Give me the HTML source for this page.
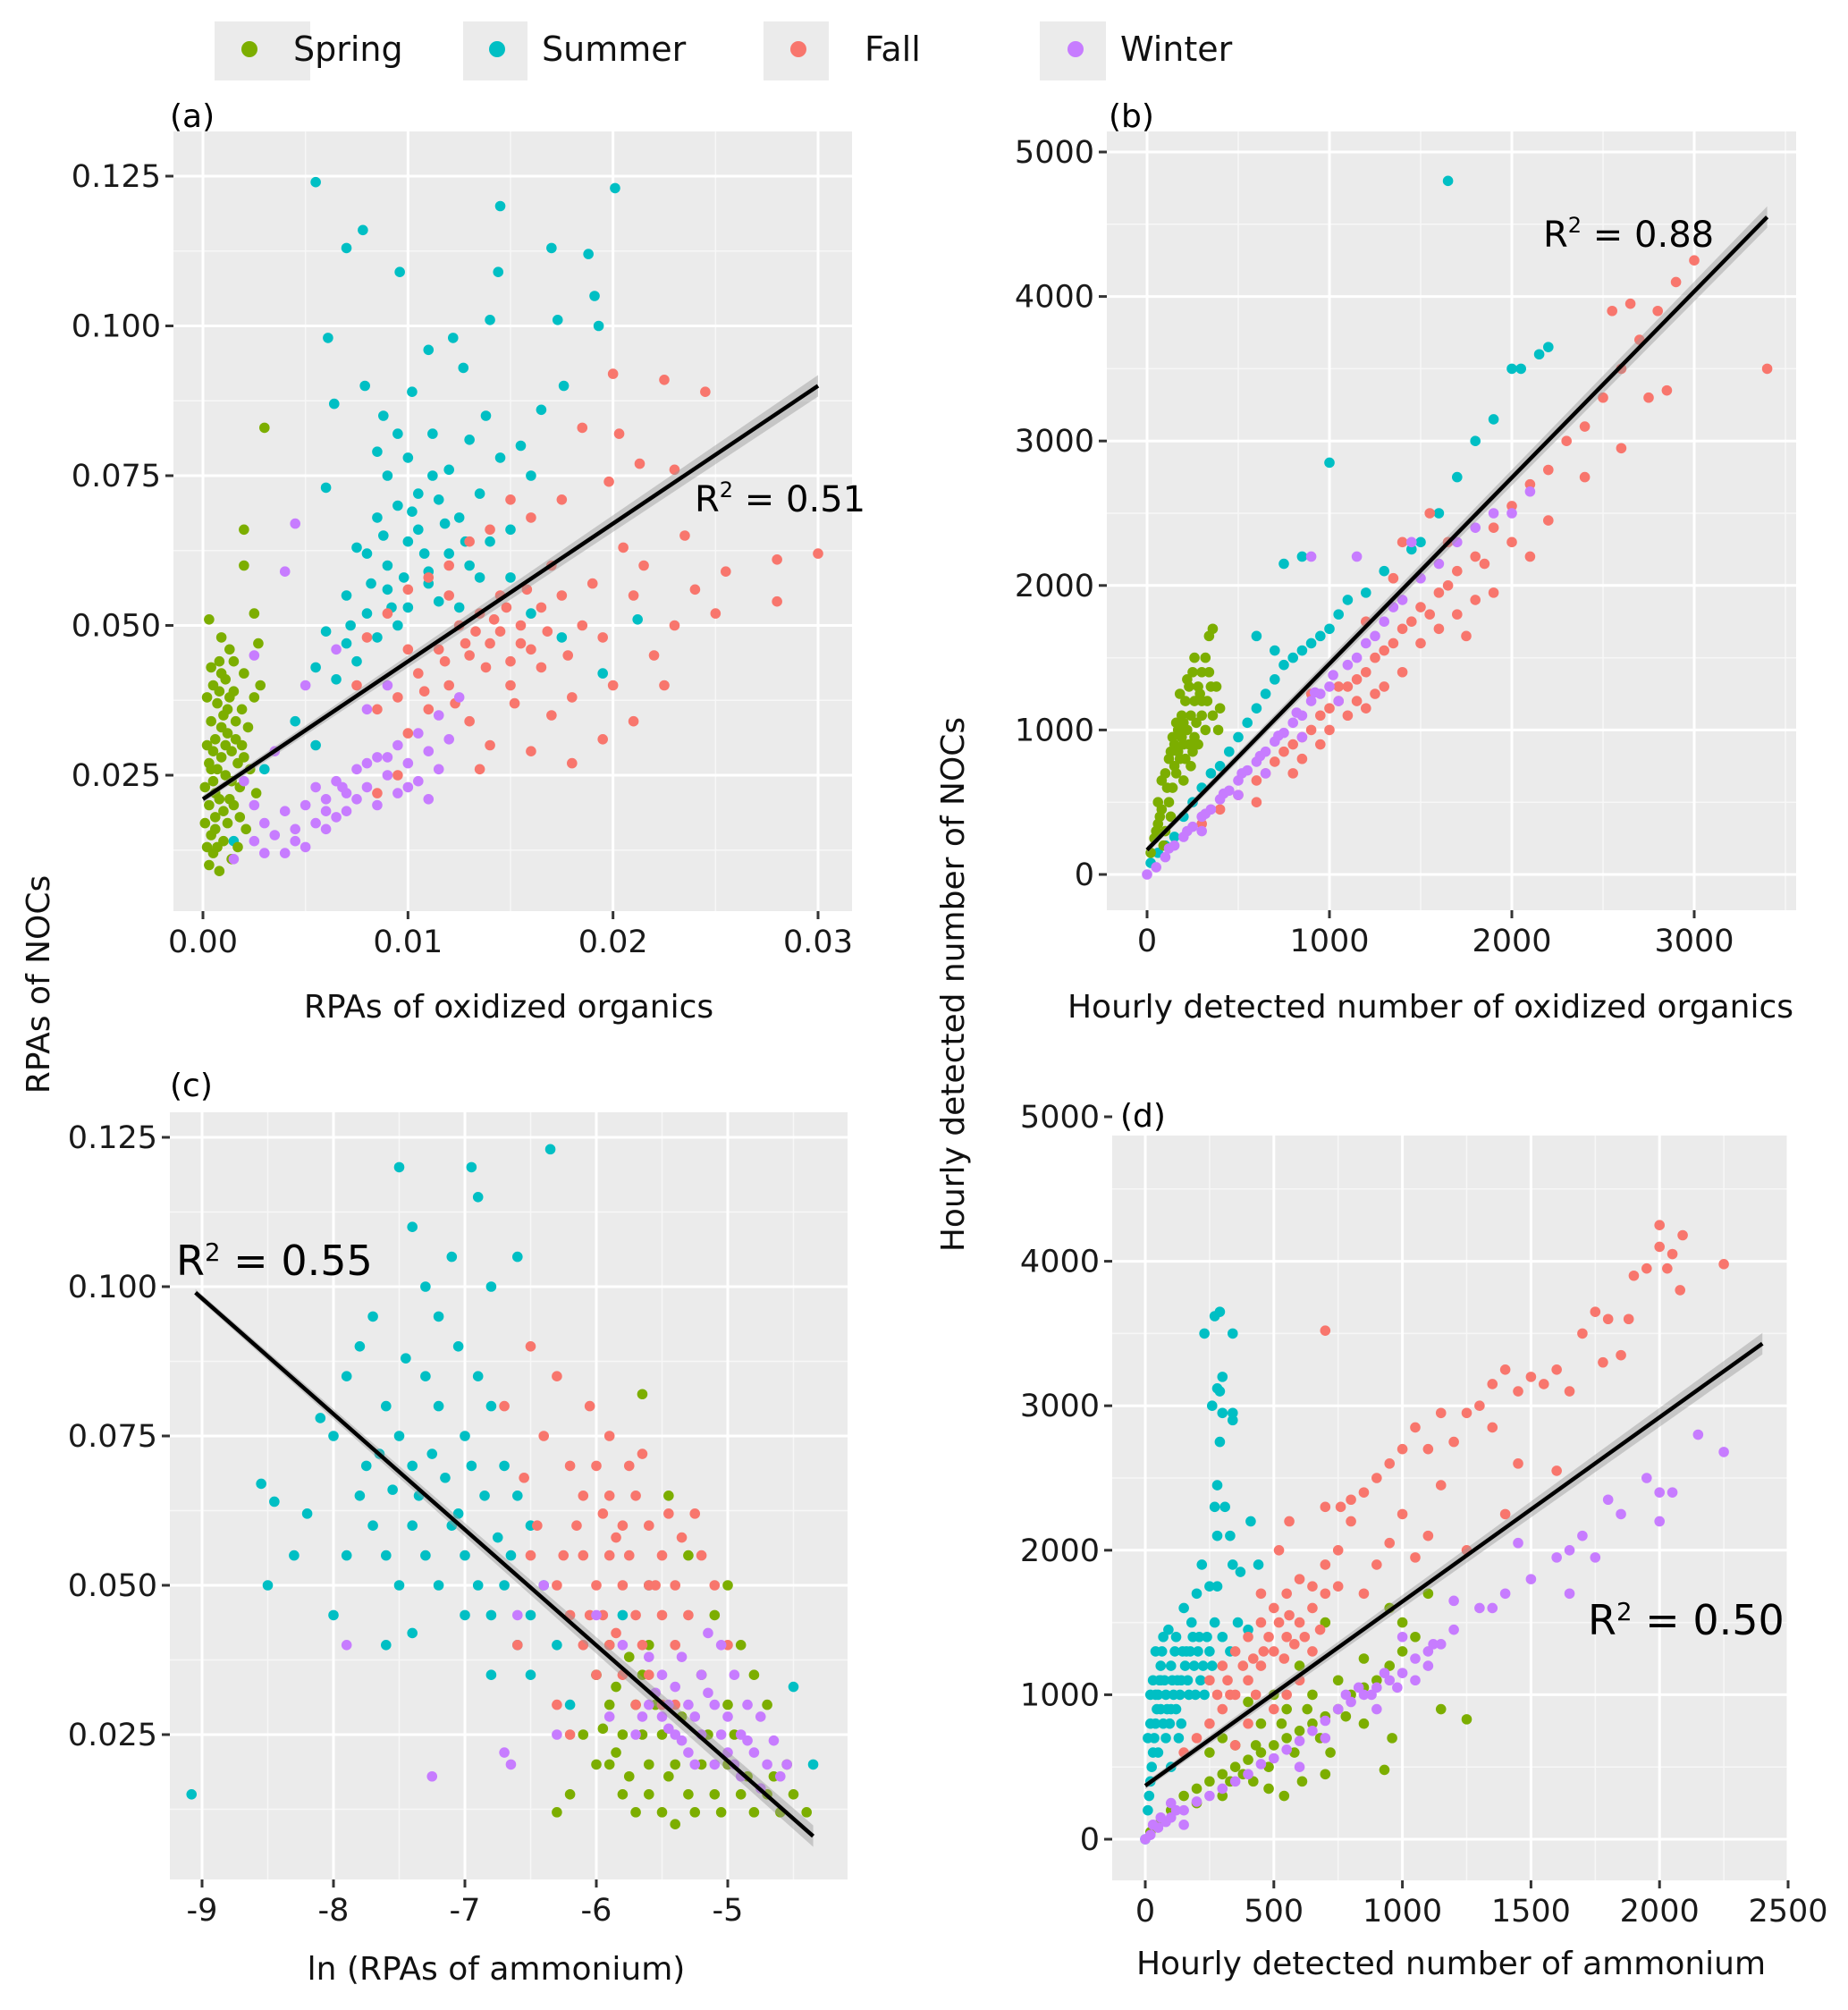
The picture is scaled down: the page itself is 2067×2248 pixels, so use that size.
<!DOCTYPE html>
<html><head><meta charset="utf-8">
<style>
html,body{margin:0;padding:0;background:#fff;}
svg{display:block;font-family:"DejaVu Sans","Liberation Sans",sans-serif;}
</style></head>
<body>
<svg id="fig" width="2067" height="2248" viewBox="0 0 2067 2248" xmlns="http://www.w3.org/2000/svg">
 <g>
  <g><rect x="240" y="24" width="107" height="66" fill="#EBEBEB"/><circle cx="279" cy="55" r="9" fill="#7CAE00"/><text x="328" y="68" font-size="38" fill="#111">Spring</text></g>
  <g><rect x="518" y="24" width="72" height="66" fill="#EBEBEB"/><circle cx="556" cy="55" r="9" fill="#00BFC4"/><text x="606" y="68" font-size="38" fill="#111">Summer</text></g>
  <g><rect x="854" y="24" width="73" height="66" fill="#EBEBEB"/><circle cx="893" cy="55" r="9" fill="#F8766D"/><text x="967" y="68" font-size="38" fill="#111">Fall</text></g>
  <g><rect x="1163" y="24" width="74" height="66" fill="#EBEBEB"/><circle cx="1203" cy="55" r="9" fill="#C77CFF"/><text x="1253" y="68" font-size="38" fill="#111">Winter</text></g>
 </g>
 <text transform="translate(55,1101) rotate(-90)" text-anchor="middle" font-size="36" fill="#111">RPAs of NOCs</text>
 <text transform="translate(1078,1101) rotate(-90)" text-anchor="middle" font-size="36" fill="#111">Hourly detected number of NOCs</text>
</svg>
<script>
const seasons = ["Summer","Spring","Fall","Winter"];
const colors = {Spring:"#7CAE00",Summer:"#00BFC4",Fall:"#F8766D",Winter:"#C77CFF"};

// Panel (a)
const aSpring=[[0.0003,0.010],[0.0005,0.012],[0.0008,0.009],[0.0004,0.015],[0.0010,0.014],[0.0006,0.018],[0.0012,0.017],[0.0003,0.020],[0.0008,0.021],[0.0015,0.020],[0.0005,0.024],[0.0011,0.025],[0.0018,0.023],[0.0003,0.027],[0.0009,0.028],[0.0014,0.029],[0.0006,0.031],[0.0012,0.032],[0.0019,0.030],[0.0004,0.034],[0.0010,0.035],[0.0016,0.034],[0.0007,0.037],[0.0013,0.038],[0.0005,0.040],[0.0011,0.041],[0.0008,0.044],[0.0013,0.046],[0.0009,0.048],[0.0003,0.051],[0.0020,0.042],[0.0025,0.038],[0.0023,0.026],[0.0026,0.022],[0.0021,0.016],[0.0017,0.013],[0.0028,0.040],[0.0027,0.047],[0.0020,0.060],[0.0020,0.066],[0.0030,0.083],[0.0025,0.052],[0.0014,0.011],[0.0019,0.036],[0.0002,0.038],[0.0015,0.044],[0.0022,0.033],[0.0007,0.013],[0.0001,0.017],[0.0017,0.027],[0.0006,0.022],[0.0002,0.030],[0.0014,0.024],[0.0009,0.033],[0.0004,0.043],[0.0001,0.023],[0.0007,0.026],[0.0013,0.021],[0.0016,0.031],[0.0002,0.013],[0.0010,0.019],[0.0005,0.029],[0.0012,0.036],[0.0008,0.039],[0.0018,0.018],[0.0006,0.016],[0.0011,0.030],[0.0004,0.026],[0.0015,0.039],[0.0009,0.042],[0.0020,0.028]];
const aSummer=[[0.0055,0.124],[0.0078,0.116],[0.0070,0.113],[0.0096,0.109],[0.0061,0.098],[0.0064,0.087],[0.0079,0.090],[0.0088,0.085],[0.0102,0.089],[0.0110,0.096],[0.0122,0.098],[0.0127,0.093],[0.0140,0.101],[0.0145,0.120],[0.0144,0.109],[0.0170,0.113],[0.0188,0.112],[0.0191,0.105],[0.0173,0.101],[0.0193,0.100],[0.0176,0.090],[0.0165,0.086],[0.0201,0.123],[0.0060,0.073],[0.0085,0.079],[0.0090,0.075],[0.0100,0.078],[0.0112,0.082],[0.0120,0.076],[0.0130,0.081],[0.0145,0.078],[0.0155,0.080],[0.0160,0.075],[0.0085,0.068],[0.0095,0.070],[0.0105,0.066],[0.0115,0.071],[0.0125,0.068],[0.0135,0.072],[0.0080,0.062],[0.0090,0.060],[0.0100,0.064],[0.0110,0.059],[0.0120,0.062],[0.0130,0.060],[0.0140,0.064],[0.0070,0.055],[0.0080,0.052],[0.0090,0.056],[0.0100,0.053],[0.0110,0.057],[0.0150,0.058],[0.0060,0.049],[0.0070,0.047],[0.0085,0.048],[0.0095,0.050],[0.0055,0.043],[0.0065,0.041],[0.0075,0.044],[0.0125,0.053],[0.0160,0.052],[0.0175,0.048],[0.0195,0.042],[0.0212,0.051],[0.0045,0.034],[0.0055,0.030],[0.0030,0.026],[0.0015,0.014],[0.0075,0.063],[0.0105,0.072],[0.0088,0.065],[0.0098,0.058],[0.0108,0.062],[0.0118,0.067],[0.0128,0.064],[0.0082,0.057],[0.0092,0.053],[0.0072,0.050],[0.0115,0.054],[0.0135,0.058],[0.0150,0.066],[0.0102,0.069],[0.0112,0.075],[0.0095,0.082],[0.0138,0.085]];
const aFall=[[0.0200,0.092],[0.0225,0.091],[0.0245,0.089],[0.0185,0.083],[0.0203,0.082],[0.0213,0.077],[0.0230,0.076],[0.0198,0.074],[0.0175,0.071],[0.0150,0.071],[0.0160,0.068],[0.0140,0.066],[0.0130,0.064],[0.0120,0.060],[0.0110,0.058],[0.0100,0.056],[0.0090,0.052],[0.0080,0.048],[0.0075,0.040],[0.0085,0.036],[0.0095,0.038],[0.0105,0.042],[0.0115,0.046],[0.0125,0.050],[0.0135,0.052],[0.0145,0.055],[0.0155,0.050],[0.0165,0.053],[0.0175,0.055],[0.0185,0.050],[0.0195,0.048],[0.0130,0.045],[0.0140,0.047],[0.0150,0.044],[0.0120,0.040],[0.0110,0.036],[0.0100,0.032],[0.0130,0.034],[0.0140,0.030],[0.0160,0.029],[0.0180,0.027],[0.0195,0.031],[0.0210,0.034],[0.0220,0.045],[0.0240,0.056],[0.0255,0.059],[0.0280,0.061],[0.0300,0.062],[0.0280,0.054],[0.0250,0.052],[0.0230,0.050],[0.0215,0.060],[0.0205,0.063],[0.0235,0.065],[0.0170,0.060],[0.0180,0.038],[0.0200,0.040],[0.0225,0.040],[0.0150,0.040],[0.0160,0.046],[0.0120,0.055],[0.0100,0.046],[0.0135,0.026],[0.0095,0.025],[0.0085,0.022],[0.0190,0.057],[0.0210,0.055],[0.0170,0.035],[0.0145,0.049],[0.0165,0.043],[0.0128,0.047],[0.0142,0.051],[0.0155,0.047],[0.0118,0.044],[0.0133,0.049],[0.0148,0.053],[0.0158,0.056],[0.0138,0.043],[0.0123,0.037],[0.0108,0.039],[0.0168,0.049],[0.0178,0.045],[0.0152,0.037]];
const aWinter=[[0.0015,0.011],[0.0030,0.012],[0.0040,0.012],[0.0050,0.013],[0.0025,0.014],[0.0035,0.015],[0.0045,0.016],[0.0055,0.017],[0.0065,0.018],[0.0030,0.017],[0.0040,0.019],[0.0050,0.020],[0.0060,0.021],[0.0070,0.022],[0.0080,0.023],[0.0090,0.025],[0.0100,0.027],[0.0110,0.029],[0.0120,0.031],[0.0055,0.023],[0.0065,0.024],[0.0075,0.026],[0.0085,0.028],[0.0095,0.030],[0.0105,0.032],[0.0085,0.020],[0.0095,0.022],[0.0105,0.024],[0.0115,0.026],[0.0070,0.019],[0.0060,0.016],[0.0025,0.020],[0.0020,0.024],[0.0045,0.067],[0.0040,0.059],[0.0025,0.045],[0.0050,0.040],[0.0065,0.046],[0.0080,0.036],[0.0090,0.040],[0.0115,0.035],[0.0125,0.038],[0.0035,0.029],[0.0110,0.021],[0.0060,0.019],[0.0075,0.021],[0.0080,0.027],[0.0100,0.023],[0.0045,0.014],[0.0068,0.023],[0.0090,0.028]];

// Panel (b)
const bSpring=[[20,150],[40,250],[60,350],[80,450],[100,300],[120,500],[140,600],[160,700],[180,800],[200,900],[220,1000],[240,1100],[260,1200],[280,1300],[300,1400],[320,1500],[340,1650],[360,1700],[380,1300],[400,1150],[150,900],[170,1000],[190,1100],[210,1200],[230,1300],[250,1400],[100,700],[120,800],[140,950],[160,1050],[200,650],[240,750],[280,900],[320,1000],[360,1100],[60,500],[80,650],[300,1200],[260,1500],[220,1350],[180,1250],[340,1400],[390,1000],[130,400],[90,200],[250,850],[200,1050],[170,850],[260,950],[300,1100],[110,600],[150,750],[190,950],[230,900],[270,1050],[210,800],[130,850],[290,1250],[330,1200],[350,1300],[70,400],[50,300]];
const bSummer=[[20,80],[60,150],[100,200],[150,260],[200,400],[250,500],[300,600],[350,700],[400,750],[450,850],[500,950],[550,1050],[600,1150],[650,1250],[700,1350],[750,1450],[800,1500],[850,1550],[900,1600],[950,1650],[1000,1700],[1050,1800],[1100,1900],[1200,1950],[1300,2100],[1450,2250],[1600,2500],[1700,2750],[1800,3000],[1900,3150],[2000,3500],[2050,3500],[2150,3600],[2200,3650],[1650,4800],[1000,2850],[750,2150],[850,2200],[600,1650],[700,1550],[1500,2300]];
const bFall=[[300,350],[400,450],[500,550],[600,650],[700,780],[800,900],[900,1000],[1000,1150],[1100,1300],[1200,1400],[1300,1550],[1400,1700],[1500,1850],[1600,1950],[1700,2100],[1800,2200],[1900,2400],[2000,2550],[2100,2700],[2200,2800],[2300,3000],[2400,3100],[2500,3300],[2600,3500],[2700,3700],[2800,3900],[2900,4100],[3000,4250],[2550,3900],[2650,3950],[2750,3300],[2850,3350],[2600,2950],[3400,3500],[2400,2750],[2200,2450],[2100,2200],[1800,1900],[1600,1700],[1400,1400],[1200,1150],[1000,1000],[800,700],[600,500],[900,1250],[1100,1100],[1300,1300],[1500,1600],[1700,1800],[1900,1950],[2000,2300],[1650,2300],[1550,2500],[1400,2300],[1200,1750],[1050,1300],[1350,2050],[1750,1650],[950,900],[1150,1200],[1250,1250],[850,800],[1050,1200],[1150,1350],[1250,1500],[1350,1600],[1450,1750],[950,1100],[850,950],[750,850],[650,700],[1550,1800],[1650,2000],[1850,2150]];
const bWinter=[[0,0],[50,50],[100,120],[150,200],[200,260],[250,330],[300,400],[350,450],[400,520],[450,580],[500,650],[550,720],[600,780],[650,850],[700,920],[750,980],[800,1050],[850,1100],[900,1200],[950,1250],[1000,1300],[1100,1450],[1200,1600],[1300,1750],[1400,1900],[1500,2050],[1600,2150],[1700,2300],[1800,2400],[1900,2500],[2000,2500],[2100,2650],[900,2200],[1150,2200],[1450,2300],[650,700],[850,950],[1050,1200],[300,300],[500,550],[120,180],[220,300],[320,420],[420,560],[520,700],[620,820],[720,960],[820,1120],[920,1260],[1020,1380],[1150,1500],[1250,1650],[1350,1850]];

// Panel (c)
const cSummer=[[-9.08,0.015],[-8.55,0.067],[-8.45,0.064],[-8.3,0.055],[-8.5,0.05],[-8.2,0.062],[-8.0,0.075],[-8.1,0.078],[-7.9,0.085],[-7.8,0.09],[-7.7,0.095],[-7.5,0.12],[-7.4,0.11],[-7.3,0.10],[-7.2,0.095],[-7.1,0.105],[-6.95,0.12],[-6.9,0.115],[-6.8,0.10],[-6.6,0.105],[-6.35,0.123],[-7.6,0.08],[-7.5,0.075],[-7.4,0.07],[-7.3,0.085],[-7.2,0.08],[-7.0,0.075],[-6.9,0.085],[-6.8,0.08],[-6.7,0.07],[-6.6,0.065],[-6.5,0.06],[-7.8,0.065],[-7.7,0.06],[-7.6,0.055],[-7.5,0.05],[-7.4,0.06],[-7.3,0.055],[-7.2,0.05],[-7.1,0.06],[-7.0,0.055],[-6.9,0.05],[-6.8,0.045],[-6.7,0.05],[-6.6,0.04],[-6.5,0.045],[-6.4,0.05],[-7.9,0.055],[-8.0,0.045],[-7.6,0.04],[-7.4,0.042],[-7.0,0.045],[-6.8,0.035],[-6.5,0.035],[-6.3,0.04],[-6.2,0.03],[-6.0,0.035],[-5.8,0.045],[-5.6,0.05],[-4.5,0.033],[-4.35,0.02],[-6.85,0.065],[-7.15,0.068],[-7.65,0.072],[-7.35,0.065],[-7.05,0.062],[-6.75,0.058],[-7.25,0.072],[-6.95,0.07],[-7.55,0.066],[-6.65,0.055],[-7.45,0.088],[-7.05,0.09],[-7.75,0.07]];
const cSpring=[[-6.0,0.035],[-5.9,0.03],[-5.8,0.025],[-5.7,0.03],[-5.6,0.02],[-5.5,0.025],[-5.4,0.02],[-5.3,0.015],[-5.2,0.02],[-5.1,0.015],[-5.0,0.02],[-4.9,0.015],[-4.8,0.012],[-4.7,0.015],[-4.6,0.012],[-4.5,0.015],[-4.4,0.012],[-5.9,0.02],[-5.8,0.015],[-5.7,0.012],[-5.6,0.015],[-5.5,0.012],[-5.4,0.01],[-6.1,0.025],[-6.0,0.02],[-6.2,0.015],[-6.3,0.012],[-5.9,0.04],[-5.75,0.038],[-5.6,0.04],[-5.1,0.045],[-5.0,0.05],[-4.9,0.04],[-4.8,0.035],[-4.7,0.03],[-5.0,0.03],[-5.2,0.035],[-5.65,0.082],[-5.45,0.065],[-5.3,0.055],[-4.95,0.025],[-4.55,0.02],[-5.35,0.028],[-5.85,0.033],[-5.55,0.03],[-5.95,0.026],[-5.85,0.022],[-5.75,0.018],[-5.65,0.025],[-5.45,0.018],[-5.25,0.012],[-5.05,0.012],[-4.85,0.018],[-4.65,0.018],[-5.65,0.035],[-5.15,0.025]];
const cFall=[[-6.5,0.09],[-6.3,0.085],[-6.4,0.075],[-6.2,0.07],[-6.1,0.065],[-6.0,0.07],[-5.9,0.065],[-5.8,0.06],[-5.7,0.065],[-5.6,0.06],[-5.5,0.055],[-5.4,0.05],[-6.1,0.055],[-6.0,0.05],[-5.9,0.055],[-5.8,0.05],[-5.7,0.045],[-5.6,0.05],[-5.5,0.045],[-5.4,0.04],[-5.3,0.045],[-5.2,0.055],[-5.1,0.05],[-5.0,0.04],[-6.2,0.045],[-6.1,0.04],[-6.0,0.035],[-5.9,0.04],[-5.8,0.035],[-5.7,0.03],[-5.6,0.035],[-5.5,0.03],[-5.4,0.03],[-6.3,0.05],[-6.5,0.055],[-6.6,0.04],[-6.3,0.03],[-6.2,0.025],[-5.9,0.075],[-5.75,0.07],[-5.65,0.072],[-5.85,0.058],[-5.95,0.045],[-5.35,0.058],[-5.25,0.062],[-6.55,0.068],[-6.45,0.06],[-6.05,0.08],[-6.7,0.08],[-6.15,0.06],[-5.95,0.062],[-5.75,0.055],[-5.55,0.05],[-6.05,0.045],[-5.85,0.042],[-5.65,0.04],[-6.25,0.055],[-5.45,0.062]];
const cWinter=[[-6.0,0.045],[-5.8,0.04],[-5.6,0.038],[-5.5,0.035],[-5.4,0.033],[-5.3,0.03],[-5.2,0.035],[-5.1,0.03],[-5.0,0.028],[-4.9,0.025],[-4.8,0.022],[-4.7,0.02],[-4.6,0.018],[-5.4,0.025],[-5.3,0.022],[-5.2,0.025],[-5.1,0.02],[-5.0,0.022],[-4.9,0.018],[-5.5,0.028],[-5.35,0.038],[-5.15,0.042],[-4.95,0.035],[-4.85,0.03],[-4.75,0.028],[-5.6,0.03],[-5.7,0.025],[-6.4,0.05],[-6.6,0.045],[-6.7,0.022],[-6.65,0.02],[-7.25,0.018],[-7.9,0.04],[-6.3,0.025],[-5.9,0.028],[-4.65,0.024],[-5.05,0.04],[-5.25,0.028],[-5.45,0.03],[-4.55,0.02],[-5.15,0.032],[-5.05,0.025],[-4.95,0.02],[-5.25,0.02],[-5.35,0.024],[-4.85,0.024],[-5.45,0.026],[-5.55,0.032],[-5.65,0.028],[-4.75,0.016]];

// Panel (d)
const dSummer=[[0,0],[10,200],[20,400],[30,600],[40,800],[50,1000],[60,1200],[70,1400],[30,1100],[40,1300],[60,900],[80,700],[100,500],[120,900],[140,1100],[160,1300],[180,1500],[200,1700],[220,1900],[100,1200],[80,1000],[120,1400],[150,1600],[170,1000],[190,1200],[210,1400],[230,1000],[250,1300],[270,1500],[300,1400],[330,1300],[360,1500],[400,1450],[250,1750],[280,1750],[340,1900],[370,1850],[440,1900],[410,2200],[280,2100],[330,2100],[270,2300],[310,2300],[280,2450],[290,2750],[300,2950],[340,2900],[340,2950],[290,3100],[280,3120],[300,3200],[260,3000],[230,3500],[270,3620],[290,3650],[340,3500],[20,800],[50,600],[90,1450],[130,700],[60,1100],[110,1000],[140,800],[20,1000],[15,300],[25,500],[35,700],[45,900],[55,1100],[65,1300],[75,1100],[85,900],[95,800],[105,1100],[115,1300],[125,1100],[135,1000],[145,1300],[155,1200],[165,1100],[175,1300],[185,1400],[195,1000],[205,1300],[215,1100],[225,1200],[240,1400],[260,1200],[10,700],[40,1000],[70,800],[100,900]];
const dSpring=[[20,50],[50,100],[100,200],[150,300],[200,350],[250,400],[300,450],[350,500],[400,550],[450,600],[500,650],[550,700],[600,750],[650,800],[700,850],[750,900],[800,1000],[850,1050],[900,1100],[950,1200],[1000,1300],[1050,1400],[1100,1700],[1250,830],[1150,900],[930,480],[960,700],[850,800],[720,600],[700,450],[610,400],[540,300],[480,350],[420,400],[300,300],[200,250],[350,650],[450,800],[550,900],[650,1000],[750,1100],[850,1250],[950,1600],[1000,1500],[600,1200],[700,1500],[500,1000],[400,950],[300,700],[250,600],[380,450],[480,500],[580,600],[680,700],[780,850],[530,800],[630,900],[330,400],[430,650]];
const dFall=[[150,600],[200,700],[250,800],[300,900],[350,1000],[400,1100],[450,1200],[500,1300],[550,1400],[600,1500],[650,1600],[700,1700],[250,1100],[300,1200],[350,1300],[400,1400],[450,1500],[500,1600],[550,1700],[600,1800],[650,1750],[700,1900],[750,2000],[500,900],[550,1000],[600,1100],[400,800],[450,1700],[520,2000],[560,2200],[700,2300],[760,2300],[800,2350],[850,2400],[900,2500],[950,2600],[1000,2700],[1050,2850],[1100,2700],[1150,2950],[1200,2750],[1250,2950],[1300,3000],[1350,3150],[1400,3250],[1450,3100],[1500,3200],[1550,3150],[1600,3250],[1650,3100],[1450,2600],[1400,2250],[1600,2550],[1250,2000],[1100,2100],[1050,1950],[950,2050],[900,1900],[850,1700],[800,2200],[750,1750],[700,3520],[1700,3500],[1750,3650],[1800,3600],[1850,3350],[1900,3900],[1950,3950],[2000,4250],[2000,4100],[2030,3950],[2050,4050],[2090,4180],[2080,3800],[2250,3980],[1780,3300],[1880,3600],[1350,2850],[1000,2250],[1150,2450],[650,1300],[350,650],[320,1100],[420,1250],[480,1400],[580,1350],[520,1500],[380,1200],[460,1300],[540,1250],[620,1400],[680,1450],[560,1550],[430,1000],[330,1000],[280,1000]];
const dWinter=[[0,0],[20,30],[50,80],[80,120],[100,150],[150,200],[200,260],[250,300],[300,350],[350,400],[400,450],[450,520],[500,560],[550,620],[600,680],[650,750],[700,820],[750,900],[800,950],[850,1000],[900,1050],[950,1100],[1000,1150],[1050,1250],[1100,1300],[1150,1350],[1200,1450],[1300,1600],[1350,1600],[1400,1700],[1450,2050],[1500,1800],[1600,1950],[1650,2000],[1700,2100],[1750,1950],[1800,2350],[1850,2250],[1950,2500],[2000,2400],[2000,2200],[2050,2400],[2150,2800],[2250,2680],[1650,1700],[1000,1400],[1200,1650],[900,900],[1050,1100],[600,500],[700,700],[150,100],[100,250],[30,100],[60,150],[120,200],[780,1000],[830,1050],[880,1000],[930,1150],[980,1050],[1100,1200],[1120,1350]];

// Regression lines (endpoints)
const aLine=[[0,0.021],[0.030,0.090]];
const bLine=[[0,170],[3400,4550]];
const cLine=[[-9.05,0.099],[-4.35,0.008]];
const dLine=[[0,370],[2400,3430]];

const aXTicks=[0,0.01,0.02,0.03], aXLabels=["0.00","0.01","0.02","0.03"];
const aYTicks=[0.025,0.05,0.075,0.1,0.125], aYLabels=["0.025","0.050","0.075","0.100","0.125"];
const bXTicks=[0,1000,2000,3000], bXLabels=["0","1000","2000","3000"];
const bYTicks=[0,1000,2000,3000,4000,5000], bYLabels=["0","1000","2000","3000","4000","5000"];
const cXTicks=[-9,-8,-7,-6,-5], cXLabels=["-9","-8","-7","-6","-5"];
const cYTicks=aYTicks, cYLabels=aYLabels;
const dXTicks=[0,500,1000,1500,2000,2500], dXLabels=["0","500","1000","1500","2000","2500"];
const dYTicks=bYTicks, dYLabels=bYLabels;

const NS="http://www.w3.org/2000/svg";
const svg=document.getElementById("fig");
function mk(tag,attrs,parent){const e=document.createElementNS(NS,tag);for(const k in attrs)e.setAttribute(k,attrs[k]);(parent||svg).appendChild(e);return e;}

function panel(p){
  const g=mk("g",{});
  
  
  const sx=v=>p.px0+(v-p.xd[0])/(p.xd[1]-p.xd[0])*(p.px1-p.px0);
  const sy=v=>p.py0+(v-p.yd[0])/(p.yd[1]-p.yd[0])*(p.py1-p.py0);
  const bg=mk("rect",{x:p.L,y:p.T,width:p.R-p.L,height:p.B-p.T,fill:"#EBEBEB"},g);
  
  
  p.xMinor.forEach(v=>{const x=sx(v);if(x>p.L&&x<p.R){const l=mk("line",{x1:x,x2:x,y1:p.T,y2:p.B,stroke:"#F7F7F7","stroke-width":1.5},g);
    
    }});
  p.yMinor.forEach(v=>{const y=sy(v);if(y>p.T&&y<p.B){const l=mk("line",{x1:p.L,x2:p.R,y1:y,y2:y,stroke:"#F7F7F7","stroke-width":1.5},g);
    
    }});
  p.xt.forEach((v,i)=>{const x=sx(v);
    const l=mk("line",{x1:x,x2:x,y1:p.T,y2:p.B,stroke:"#FFFFFF","stroke-width":3},g);
    
    
    const t=mk("line",{x1:x,x2:x,y1:p.B,y2:p.B+9,stroke:"#333","stroke-width":3},g);
    
    
    const tx=mk("text",{x:x,y:p.B+46,"text-anchor":"middle","font-size":35,fill:"#1a1a1a"},g);
    tx.textContent=p.xl[i];
    
    });
  p.yt.forEach((v,i)=>{const y=sy(v);
    if(y>=p.T){const l=mk("line",{x1:p.L,x2:p.R,y1:y,y2:y,stroke:"#FFFFFF","stroke-width":3},g);
    
    }
    const t=mk("line",{x1:p.L-9,x2:p.L,y1:y,y2:y,stroke:"#333","stroke-width":3},g);
    
    
    const tx=mk("text",{x:p.L-14,y:y+12,"text-anchor":"end","font-size":35,fill:"#1a1a1a"},g);
    tx.textContent=p.yl[i];
    
    });
  seasons.forEach(s=>{
    const sg=mk("g",{fill:colors[s]},g);
    
    
    p.data[s].forEach(d=>{
      const c=mk("circle",{cx:sx(d[0]),cy:sy(d[1]),r:5.8},sg);
      
      
    });
  });
  const x1=sx(p.line[0][0]),y1=sy(p.line[0][1]),x2=sx(p.line[1][0]),y2=sy(p.line[1][1]);
  const band=mk("polygon",{points:`${x1},${y1-4} ${x2},${y2-12} ${x2},${y2+12} ${x1},${y1+4}`,fill:"#999",opacity:0.45},g);
  
  
  const ln=mk("line",{x1:x1,y1:y1,x2:x2,y2:y2,stroke:"#000","stroke-width":4.5},g);
  
  
  const r2=mk("text",{x:p.r2x,y:p.r2y,"font-size":p.r2fs,fill:"#000"},g);
  r2.innerHTML='R<tspan dy="-16" font-size="'+(p.r2fs*0.6)+'">2</tspan><tspan dy="16"> = '+p.r2v+'</tspan>';
  
  
  const lab=mk("text",{x:p.labx,y:p.laby,"font-size":36,fill:"#000"},g);
  lab.textContent="("+p.id+")";
  
  
  const xt=mk("text",{x:p.xtx,y:p.xty,"text-anchor":"middle","font-size":36,fill:"#111"},g);
  xt.textContent=p.xtitle;
  
  
}
function range(a,b,s){const r=[];for(let v=a;v<=b+1e-9;v+=s)r.push(v);return r;}

panel({id:"a",L:194,R:953,T:147,B:1019,xd:[0,0.03],px0:227,px1:915,yd:[0.025,0.125],py0:867,py1:197,
  xt:aXTicks,xl:aXLabels,yt:aYTicks,yl:aYLabels,xMinor:range(-0.005,0.035,0.01),yMinor:range(0.0125,0.1375,0.025),
  data:{Spring:aSpring,Summer:aSummer,Fall:aFall,Winter:aWinter},line:aLine,r2x:777,r2y:572,r2fs:40,r2v:"0.51",
  labx:190,laby:142,xtitle:"RPAs of oxidized organics",xtx:569,xty:1138});
panel({id:"b",L:1238,R:2009,T:147,B:1018,xd:[0,3000],px0:1283,px1:1895,yd:[0,5000],py0:978,py1:170,
  xt:bXTicks,xl:bXLabels,yt:bYTicks,yl:bYLabels,xMinor:range(-500,3500,1000),yMinor:range(-500,5500,1000),
  data:{Spring:bSpring,Summer:bSummer,Fall:bFall,Winter:bWinter},line:bLine,r2x:1726,r2y:276,r2fs:40,r2v:"0.88",
  labx:1240,laby:142,xtitle:"Hourly detected number of oxidized organics",xtx:1600,xty:1138});
panel({id:"c",L:190,R:948,T:1244,B:2102,xd:[-9,-5],px0:226,px1:814,yd:[0.025,0.125],py0:1940,py1:1272,
  xt:cXTicks,xl:cXLabels,yt:cYTicks,yl:cYLabels,xMinor:range(-9.5,-4.5,1),yMinor:range(0.0125,0.1375,0.025),
  data:{Spring:cSpring,Summer:cSummer,Fall:cFall,Winter:cWinter},line:cLine,r2x:197,r2y:1426,r2fs:46,r2v:"0.55",
  labx:190,laby:1226,xtitle:"ln (RPAs of ammonium)",xtx:555,xty:2214});
panel({id:"d",L:1244,R:2001,T:1270,B:2103,xd:[0,2500],px0:1281,px1:2000,yd:[0,5000],py0:2057,py1:1249,
  xt:dXTicks,xl:dXLabels,yt:dYTicks,yl:dYLabels,xMinor:range(250,2250,500),yMinor:range(500,4500,1000),
  data:{Spring:dSpring,Summer:dSummer,Fall:dFall,Winter:dWinter},line:dLine,r2x:1776,r2y:1828,r2fs:46,r2v:"0.50",
  labx:1253,laby:1260,xtitle:"Hourly detected number of ammonium",xtx:1623,xty:2208});
</script>
</body></html>
